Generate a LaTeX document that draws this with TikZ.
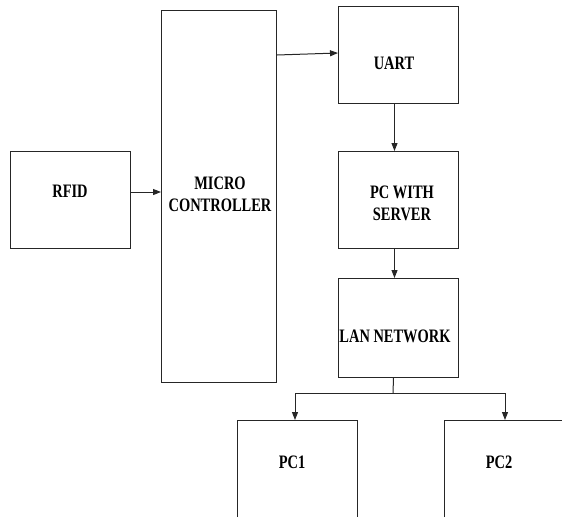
\documentclass[tikz,border=0pt]{standalone}
\usepackage{fontspec}
\setmainfont{Liberation Serif}[FakeStretch=0.76]
\usetikzlibrary{arrows.meta}
\begin{document}
\begin{tikzpicture}[x=1pt,y=-1pt,
  box/.style={draw=black!85,line width=1pt,rectangle,inner sep=0pt,anchor=north west},
  lbl/.style={font=\fontsize{19}{22}\selectfont\bfseries,align=center,inner sep=0pt,text=black},
  wire/.style={draw=black!85,line width=1pt},
  arr/.style={wire,-{Triangle[length=8pt,width=6pt]}}]
\useasboundingbox (0,0) rectangle (562,517);
% boxes
\node[box,minimum width=120pt,minimum height=97pt] (rfid) at (10,151) {};
\node[box,minimum width=115pt,minimum height=372pt] (mc) at (161,10) {};
\node[box,minimum width=120pt,minimum height=97pt] (uart) at (338,6) {};
\node[box,minimum width=120pt,minimum height=97pt] (pcs) at (338,151) {};
\node[box,minimum width=120pt,minimum height=99pt] (lan) at (338,278) {};
% open boxes at the bottom
\coordinate (pc1tl) at (237,420);
\coordinate (pc1tr) at (357,420);
\coordinate (pc1bl) at (237,517);
\coordinate (pc1br) at (357,517);
\coordinate (pc2tl) at (444,420);
\coordinate (pc2tr) at (562,420);
\coordinate (pc2bl) at (444,517);
\draw[wire] (pc1bl) -- (pc1tl) -- (pc1tr) -- (pc1br);
\draw[wire] (pc2bl) -- (pc2tl) -- (pc2tr);
% labels
\node[lbl] (trfid) at (70,191) {RFID};
\node[lbl] (tmc) at (220,194) {MICRO\\CONTROLLER};
\node[lbl] (tuart) at (394,63) {UART};
\node[lbl] (tpcs) at (402,203) {PC WITH\\SERVER};
\node[lbl] (tlan) at (395,336) {LAN NETWORK};
\node[lbl] (tpc1) at (292,462) {PC1};
\node[lbl] (tpc2) at (499,462) {PC2};
% connectors
\coordinate (rout) at ([yshift=-41pt]rfid.north east);
\draw[arr] (rout) -- (rout -| mc.west);
\draw[arr] ([yshift=-45pt]mc.north east) -- ([yshift=-47pt]uart.north west);
\draw[arr] ([xshift=-4pt]uart.south) -- ([xshift=-4pt]pcs.north);
\draw[arr] ([xshift=-4pt]pcs.south) -- ([xshift=-4pt]lan.north);
\coordinate (split) at (393,393);
\coordinate (lleft) at (295,393);
\coordinate (lright) at (505,393);
\draw[wire] ([xshift=-5pt]lan.south) -- (split);
\draw[wire] (lleft) -- (lright);
\draw[arr] (lleft) -- (lleft |- pc1tl);
\draw[arr] (lright) -- (lright |- pc2tl);
\end{tikzpicture}
\end{document}
